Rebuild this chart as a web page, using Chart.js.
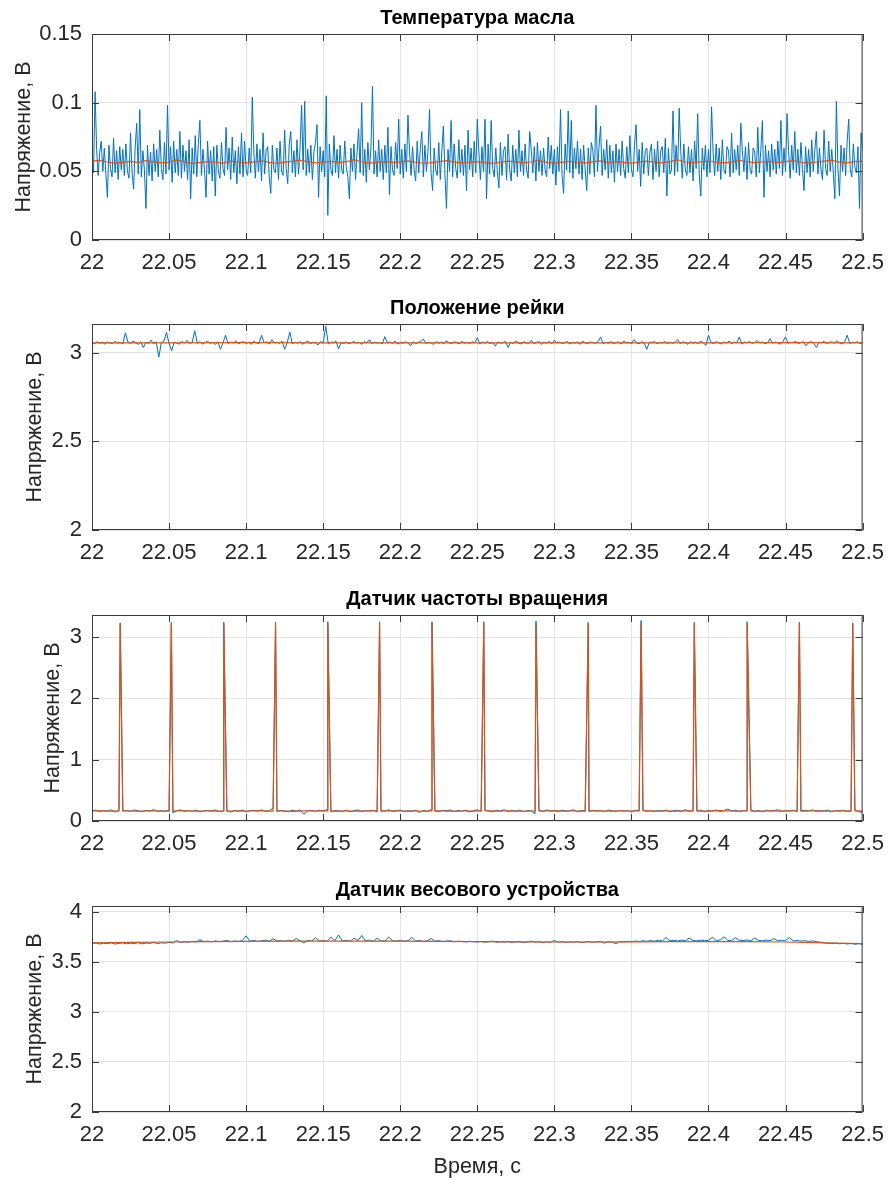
<!DOCTYPE html>
<html>
<head>
<meta charset="utf-8">
<script src="https://cdn.jsdelivr.net/npm/chart.js@4.4.1/dist/chart.umd.min.js"></script>
<style>
body { margin: 0; background: #fff; width: 894px; height: 1180px; position: relative; overflow: hidden; }
canvas { position: absolute; left: 0; }
</style>
</head>
<body>
<canvas id="oilChart" width="894" height="290" style="top:0px;width:894px;height:290px"></canvas>
<canvas id="railChart" width="894" height="290" style="top:290px;width:894px;height:290px"></canvas>
<canvas id="rpmChart" width="894" height="290" style="top:581px;width:894px;height:290px"></canvas>
<canvas id="weightChart" width="894" height="308" style="top:872px;width:894px;height:308px"></canvas>
<script>
// time axis, seconds
const tStart = 22;
const tEnd = 22.5;
const xTickValues = [22, 22.05, 22.1, 22.15, 22.2, 22.25, 22.3, 22.35, 22.4, 22.45, 22.5];

// Температура масла, raw signal (uniform samples over 22..22.5 s)
const oilRaw = [
  0.063, 0.049, 0.108, 0.066, 0.047, 0.064, 0.072, 0.050, 0.067, 0.048, 0.031, 0.069, 0.052, 0.046, 0.074, 0.049, 0.065, 0.044, 0.068, 0.051,
  0.066, 0.047, 0.070, 0.050, 0.045, 0.078, 0.049, 0.037, 0.067, 0.085, 0.048, 0.095, 0.046, 0.065, 0.051, 0.023, 0.069, 0.047, 0.064, 0.043,
  0.070, 0.050, 0.066, 0.046, 0.080, 0.052, 0.044, 0.071, 0.048, 0.098, 0.051, 0.068, 0.042, 0.072, 0.049, 0.066, 0.047, 0.079, 0.045, 0.069,
  0.050, 0.065, 0.044, 0.073, 0.030, 0.067, 0.048, 0.076, 0.046, 0.070, 0.087, 0.047, 0.066, 0.051, 0.031, 0.072, 0.048, 0.065, 0.043, 0.068,
  0.032, 0.069, 0.050, 0.045, 0.071, 0.052, 0.047, 0.082, 0.051, 0.067, 0.044, 0.075, 0.049, 0.065, 0.041, 0.068, 0.048, 0.078, 0.046, 0.072,
  0.051, 0.047, 0.067, 0.049, 0.104, 0.064, 0.045, 0.070, 0.050, 0.066, 0.043, 0.078, 0.048, 0.065, 0.068, 0.046, 0.034, 0.069, 0.051, 0.049,
  0.067, 0.044, 0.072, 0.050, 0.047, 0.080, 0.052, 0.041, 0.070, 0.079, 0.049, 0.065, 0.046, 0.073, 0.048, 0.067, 0.098, 0.051, 0.101, 0.047,
  0.066, 0.049, 0.069, 0.044, 0.064, 0.071, 0.084, 0.031, 0.068, 0.050, 0.065, 0.046, 0.105, 0.018, 0.070, 0.051, 0.047, 0.076, 0.049, 0.066,
  0.045, 0.069, 0.051, 0.048, 0.072, 0.053, 0.046, 0.030, 0.067, 0.050, 0.070, 0.044, 0.064, 0.081, 0.049, 0.100, 0.047, 0.066, 0.042, 0.071,
  0.051, 0.067, 0.112, 0.048, 0.065, 0.046, 0.073, 0.050, 0.066, 0.044, 0.069, 0.049, 0.082, 0.033, 0.068, 0.051, 0.047, 0.071, 0.052, 0.088,
  0.048, 0.066, 0.045, 0.070, 0.050, 0.091, 0.065, 0.047, 0.068, 0.051, 0.043, 0.072, 0.049, 0.066, 0.079, 0.046, 0.069, 0.050, 0.064, 0.095,
  0.049, 0.036, 0.067, 0.051, 0.047, 0.071, 0.044, 0.065, 0.083, 0.048, 0.023, 0.066, 0.050, 0.087, 0.046, 0.070, 0.052, 0.045, 0.073, 0.049,
  0.066, 0.047, 0.069, 0.036, 0.080, 0.051, 0.067, 0.046, 0.072, 0.049, 0.088, 0.065, 0.044, 0.068, 0.050, 0.088, 0.030, 0.070, 0.048, 0.087,
  0.052, 0.046, 0.067, 0.050, 0.038, 0.071, 0.047, 0.065, 0.068, 0.044, 0.077, 0.051, 0.043, 0.069, 0.049, 0.066, 0.046, 0.080, 0.050, 0.065,
  0.047, 0.070, 0.051, 0.045, 0.079, 0.066, 0.049, 0.068, 0.043, 0.071, 0.050, 0.065, 0.047, 0.067, 0.051, 0.046, 0.075, 0.052, 0.069, 0.048,
  0.066, 0.040, 0.068, 0.050, 0.095, 0.047, 0.034, 0.070, 0.051, 0.094, 0.049, 0.087, 0.045, 0.067, 0.052, 0.072, 0.048, 0.066, 0.044, 0.069,
  0.051, 0.036, 0.067, 0.048, 0.071, 0.065, 0.046, 0.098, 0.050, 0.068, 0.083, 0.047, 0.066, 0.051, 0.073, 0.045, 0.069, 0.049, 0.065, 0.042,
  0.070, 0.050, 0.066, 0.047, 0.072, 0.052, 0.045, 0.068, 0.049, 0.076, 0.051, 0.046, 0.069, 0.084, 0.050, 0.066, 0.039, 0.071, 0.048, 0.065,
  0.067, 0.047, 0.064, 0.070, 0.044, 0.066, 0.050, 0.072, 0.046, 0.065, 0.068, 0.049, 0.074, 0.032, 0.067, 0.048, 0.051, 0.094, 0.047, 0.069,
  0.050, 0.096, 0.065, 0.045, 0.070, 0.051, 0.047, 0.068, 0.049, 0.066, 0.043, 0.072, 0.052, 0.092, 0.048, 0.032, 0.067, 0.051, 0.069, 0.046,
  0.066, 0.049, 0.097, 0.064, 0.047, 0.070, 0.050, 0.067, 0.044, 0.073, 0.051, 0.048, 0.068, 0.065, 0.046, 0.078, 0.049, 0.066, 0.051, 0.069,
  0.047, 0.085, 0.065, 0.050, 0.068, 0.044, 0.071, 0.051, 0.048, 0.067, 0.064, 0.046, 0.082, 0.049, 0.066, 0.087, 0.031, 0.069, 0.050, 0.065,
  0.046, 0.070, 0.051, 0.066, 0.048, 0.072, 0.052, 0.087, 0.047, 0.067, 0.050, 0.092, 0.065, 0.045, 0.069, 0.051, 0.079, 0.049, 0.066, 0.047,
  0.071, 0.052, 0.036, 0.068, 0.049, 0.066, 0.046, 0.073, 0.050, 0.065, 0.079, 0.048, 0.067, 0.051, 0.044, 0.080, 0.052, 0.047, 0.072, 0.050,
  0.066, 0.049, 0.030, 0.101, 0.052, 0.032, 0.069, 0.050, 0.067, 0.047, 0.072, 0.088, 0.051, 0.046, 0.070, 0.053, 0.049, 0.068, 0.023, 0.078,
  0.066
];
// Температура масла, filtered
const oilFiltered = [
  0.0575, 0.0580, 0.0568, 0.0560, 0.0565, 0.0572, 0.0563, 0.0578, 0.0569, 0.0561,
  0.0566, 0.0583, 0.0570, 0.0558, 0.0564, 0.0571, 0.0566, 0.0560, 0.0574, 0.0568,
  0.0562, 0.0569, 0.0577, 0.0565, 0.0559, 0.0567, 0.0573, 0.0582, 0.0569, 0.0561,
  0.0566, 0.0572, 0.0564, 0.0570, 0.0585, 0.0568, 0.0560, 0.0565, 0.0571, 0.0563,
  0.0569, 0.0576, 0.0566, 0.0559, 0.0563, 0.0570, 0.0578, 0.0567, 0.0561, 0.0566,
  0.0571, 0.0564, 0.0558, 0.0566, 0.0574, 0.0569, 0.0562, 0.0568, 0.0579, 0.0565,
  0.0560, 0.0567, 0.0573, 0.0566, 0.0561, 0.0569, 0.0576, 0.0564, 0.0570, 0.0565,
  0.0560, 0.0568, 0.0575, 0.0567, 0.0562, 0.0571, 0.0584, 0.0568, 0.0563, 0.0569,
  0.0574, 0.0566, 0.0561, 0.0567, 0.0580, 0.0570, 0.0563, 0.0568, 0.0573, 0.0565,
  0.0571, 0.0578, 0.0566, 0.0560, 0.0568, 0.0575, 0.0582, 0.0567, 0.0562, 0.0570,
  0.0574
];

// Положение рейки
const railRaw = [
  3.058, 3.051, 3.063, 3.054, 3.060, 3.049, 3.062, 3.056, 3.052, 3.065, 3.055, 3.059, 3.050, 3.113, 3.061, 3.053, 3.067, 3.057, 3.048, 3.062,
  3.030, 3.060, 3.054, 3.072, 3.051, 3.063, 2.976, 3.058, 3.066, 3.116, 3.052, 3.012, 3.061, 3.056, 3.049, 3.064, 3.055, 3.070, 3.053, 3.059,
  3.125, 3.054, 3.062, 3.050, 3.058, 3.066, 3.053, 3.060, 3.047, 3.063, 3.020, 3.057, 3.100, 3.052, 3.061, 3.055, 3.068, 3.050, 3.059, 3.064,
  3.053, 3.060, 3.048, 3.065, 3.056, 3.052, 3.100, 3.058, 3.062, 3.050, 3.075, 3.055, 3.061, 3.053, 3.066, 3.020, 3.057, 3.118, 3.051, 3.060,
  3.055, 3.063, 3.049, 3.058, 3.067, 3.052, 3.060, 3.056, 3.045, 3.064, 3.054, 3.150, 3.050, 3.061, 3.057, 3.066, 3.022, 3.059, 3.053, 3.062,
  3.051, 3.058, 3.064, 3.055, 3.060, 3.048, 3.063, 3.057, 3.074, 3.052, 3.061, 3.055, 3.059, 3.050, 3.092, 3.056, 3.062, 3.053, 3.066, 3.049,
  3.060, 3.054, 3.062, 3.057, 3.040, 3.063, 3.052, 3.059, 3.065, 3.078, 3.053, 3.060, 3.056, 3.048, 3.064, 3.055, 3.061, 3.051, 3.068, 3.057,
  3.053, 3.062, 3.058, 3.050, 3.065, 3.055, 3.060, 3.052, 3.063, 3.057, 3.085, 3.049, 3.061, 3.056, 3.064, 3.052, 3.059, 3.038, 3.062, 3.055,
  3.058, 3.064, 3.030, 3.060, 3.053, 3.067, 3.056, 3.050, 3.062, 3.057, 3.054, 3.071, 3.052, 3.059, 3.063, 3.049, 3.060, 3.055, 3.065, 3.051,
  3.072, 3.056, 3.061, 3.053, 3.058, 3.064, 3.050, 3.060, 3.055, 3.062, 3.048, 3.066, 3.057, 3.052, 3.061, 3.059, 3.054, 3.063, 3.090, 3.051,
  3.060, 3.055, 3.064, 3.052, 3.058, 3.062, 3.049, 3.066, 3.056, 3.060, 3.053, 3.075, 3.057, 3.051, 3.063, 3.055, 3.020, 3.061, 3.058, 3.064,
  3.052, 3.059, 3.056, 3.065, 3.050, 3.061, 3.054, 3.060, 3.075, 3.053, 3.062, 3.057, 3.048, 3.064, 3.055, 3.060, 3.052, 3.067, 3.056, 3.042,
  3.100, 3.058, 3.053, 3.063, 3.057, 3.050, 3.062, 3.055, 3.066, 3.052, 3.060, 3.056, 3.090, 3.049, 3.061, 3.057, 3.064, 3.053, 3.059, 3.070,
  3.055, 3.062, 3.051, 3.058, 3.080, 3.054, 3.061, 3.056, 3.049, 3.064, 3.090, 3.053, 3.060, 3.057, 3.066, 3.051, 3.059, 3.062, 3.040, 3.058,
  3.063, 3.055, 3.030, 3.060, 3.057, 3.065, 3.052, 3.059, 3.062, 3.054, 3.068, 3.056, 3.050, 3.061, 3.100, 3.053, 3.060, 3.057, 3.064, 3.052,
  3.058
];
const railFiltered = [3.057, 3.056, 3.058, 3.057, 3.056, 3.057, 3.057, 3.056, 3.057, 3.058, 3.057];

// Датчик частоты вращения: level between pulses, then the pulses themselves
const rpmRaw = [
  0.165, 0.178, 0.152, 0.170, 0.160, 0.182, 0.148, 0.175, 0.163, 0.171,
  0.157, 0.180, 0.166, 0.150, 0.174, 0.161, 0.185, 0.155, 0.169, 0.158,
  0.176, 0.130, 0.168, 0.182, 0.154, 0.171, 0.160, 0.177, 0.149, 0.166,
  0.172, 0.158, 0.181, 0.153, 0.165, 0.175, 0.145, 0.170, 0.162, 0.179,
  0.151, 0.168, 0.174, 0.160, 0.183, 0.155, 0.169, 0.210, 0.158, 0.172,
  0.164, 0.150, 0.176, 0.161, 0.180, 0.110, 0.167, 0.173, 0.156, 0.178,
  0.162, 0.185, 0.150, 0.171, 0.165, 0.158, 0.177, 0.152, 0.168, 0.181,
  0.155, 0.170, 0.163, 0.176, 0.148, 0.172, 0.160, 0.184, 0.157, 0.166,
  0.179, 0.153, 0.169, 0.162, 0.175, 0.140, 0.171, 0.158, 0.183, 0.164,
  0.151, 0.174, 0.166, 0.180, 0.156, 0.170, 0.161, 0.177, 0.149, 0.168,
  0.182, 0.158, 0.172, 0.165, 0.150, 0.176, 0.163, 0.185, 0.155, 0.169,
  0.160, 0.178, 0.152, 0.171, 0.166, 0.120, 0.174, 0.158, 0.181, 0.163,
  0.170, 0.154, 0.177, 0.161, 0.168, 0.183, 0.150, 0.172, 0.164, 0.159,
  0.176, 0.162, 0.169, 0.153, 0.180, 0.166, 0.157, 0.174, 0.161, 0.171,
  0.148, 0.177, 0.165, 0.182, 0.158, 0.170, 0.155, 0.173, 0.163, 0.179,
  0.152, 0.168, 0.175, 0.160, 0.184, 0.156, 0.171, 0.164, 0.178, 0.150,
  0.172, 0.161, 0.180, 0.157, 0.169, 0.195, 0.163, 0.176, 0.154, 0.170,
  0.166, 0.181, 0.158, 0.173, 0.150, 0.177, 0.162, 0.169, 0.185, 0.155,
  0.171, 0.160, 0.178, 0.152, 0.167, 0.175, 0.163, 0.182, 0.157, 0.170,
  0.164, 0.179, 0.151, 0.172, 0.160, 0.176, 0.158, 0.168, 0.183, 0.150,
  0.140
];
const rpmFiltered = [
  0.163, 0.164, 0.165, 0.164, 0.162, 0.161, 0.162, 0.164, 0.166, 0.165,
  0.163, 0.162, 0.160, 0.161, 0.163, 0.165, 0.166, 0.164, 0.162, 0.161,
  0.160, 0.162, 0.164, 0.166, 0.167, 0.165, 0.163, 0.162, 0.161, 0.163,
  0.165, 0.164, 0.162, 0.160, 0.159, 0.161, 0.163, 0.165, 0.164, 0.162,
  0.161, 0.163, 0.166, 0.168, 0.166, 0.164, 0.162, 0.161, 0.163, 0.164,
  0.162, 0.160, 0.158, 0.160, 0.162, 0.164, 0.165, 0.163, 0.162, 0.164,
  0.166, 0.165, 0.163, 0.161, 0.160, 0.162, 0.164, 0.163, 0.161, 0.160,
  0.162, 0.164, 0.166, 0.165, 0.163, 0.162, 0.164, 0.166, 0.167, 0.165,
  0.163, 0.161, 0.160, 0.162, 0.164, 0.163, 0.161, 0.162, 0.164, 0.166,
  0.165, 0.163, 0.162, 0.160, 0.159, 0.161, 0.163, 0.164, 0.162, 0.161,
  0.163, 0.165, 0.167, 0.166, 0.164, 0.162, 0.161, 0.163, 0.165, 0.164,
  0.162, 0.160, 0.159, 0.161, 0.163, 0.165, 0.164, 0.162, 0.163, 0.165,
  0.166, 0.164, 0.162, 0.161, 0.163, 0.164, 0.162, 0.160, 0.161, 0.163,
  0.165, 0.166, 0.164, 0.163, 0.161, 0.160, 0.162, 0.164, 0.165, 0.163,
  0.162, 0.163, 0.165, 0.167, 0.166, 0.164, 0.162, 0.161, 0.162, 0.164,
  0.163, 0.161, 0.160, 0.162, 0.164, 0.166, 0.165, 0.163, 0.161, 0.160,
  0.162, 0.164, 0.166, 0.168, 0.166, 0.164, 0.163, 0.161, 0.162, 0.164,
  0.165, 0.163, 0.161, 0.160, 0.162, 0.164, 0.165, 0.163, 0.162, 0.161,
  0.163, 0.165, 0.166, 0.164, 0.162, 0.161, 0.163, 0.165, 0.164, 0.162,
  0.160, 0.159, 0.161, 0.163, 0.165, 0.164, 0.162, 0.161, 0.163, 0.164,
  0.162
];
const pulseTimes = [22.0183, 22.0515, 22.0855, 22.1191, 22.1530, 22.1866, 22.2206, 22.2542,
  22.2881, 22.3220, 22.3563, 22.3908, 22.4251, 22.4590, 22.4936];
const pulseRaw = [3.23, 3.24, 3.24, 3.24, 3.25, 3.25, 3.25, 3.25, 3.26, 3.24, 3.27, 3.24, 3.25, 3.24, 3.23];
const pulseFiltered = [3.22, 3.22, 3.22, 3.22, 3.23, 3.22, 3.22, 3.23, 3.22, 3.22, 3.22, 3.22, 3.22, 3.22, 3.21];

// Датчик весового устройства
const weightRaw = [
  3.684, 3.690, 3.680, 3.688, 3.683, 3.692, 3.679, 3.687, 3.691, 3.682,
  3.689, 3.685, 3.693, 3.681, 3.690, 3.686, 3.695, 3.684, 3.692, 3.688,
  3.697, 3.690, 3.715, 3.694, 3.702, 3.698, 3.706, 3.700, 3.722, 3.703,
  3.709, 3.701, 3.711, 3.704, 3.708, 3.716, 3.703, 3.710, 3.706, 3.713,
  3.762, 3.708, 3.715, 3.705, 3.712, 3.718, 3.707, 3.733, 3.710, 3.714,
  3.706, 3.716, 3.709, 3.735, 3.712, 3.690, 3.717, 3.708, 3.742, 3.711,
  3.714, 3.707, 3.748, 3.712, 3.770, 3.709, 3.716, 3.705, 3.740, 3.713,
  3.765, 3.710, 3.718, 3.706, 3.738, 3.712, 3.708, 3.750, 3.714, 3.709,
  3.716, 3.707, 3.712, 3.745, 3.710, 3.714, 3.705, 3.711, 3.735, 3.708,
  3.713, 3.704, 3.709, 3.712, 3.702, 3.708, 3.705, 3.701, 3.707, 3.703,
  3.700, 3.706, 3.698, 3.703, 3.709, 3.697, 3.702, 3.699, 3.705, 3.696,
  3.701, 3.704, 3.695, 3.700, 3.708, 3.698, 3.703, 3.694, 3.701, 3.697,
  3.715, 3.699, 3.704, 3.696, 3.702, 3.698, 3.705, 3.693, 3.700, 3.703,
  3.697, 3.701, 3.706, 3.689, 3.703, 3.699, 3.683, 3.704, 3.700, 3.707,
  3.703, 3.709, 3.705, 3.712, 3.707, 3.714, 3.708, 3.718, 3.710, 3.745,
  3.713, 3.717, 3.709, 3.720, 3.712, 3.740, 3.715, 3.711, 3.719, 3.713,
  3.716, 3.748, 3.714, 3.720, 3.752, 3.717, 3.712, 3.742, 3.718, 3.715,
  3.721, 3.713, 3.740, 3.716, 3.712, 3.719, 3.714, 3.735, 3.711, 3.717,
  3.712, 3.745, 3.710, 3.715, 3.708, 3.713, 3.706, 3.711, 3.704, 3.698,
  3.692, 3.688, 3.685, 3.690, 3.682, 3.687, 3.680, 3.685, 3.678, 3.683,
  3.676
];
const weightFiltered = [3.692, 3.696, 3.700, 3.703, 3.706, 3.708, 3.709, 3.709, 3.708, 3.706,
  3.703, 3.701, 3.700, 3.700, 3.701, 3.703, 3.704, 3.703, 3.700, 3.692, 3.684];

const BLUE = '#0072BD';
const ORANGE = '#D95319';
const FONT = "'Liberation Sans', Arial, Helvetica, sans-serif";

Chart.defaults.font.family = FONT;
Chart.defaults.color = '#262626';

// samples are evenly spaced over the plotted window
function toPoints(values) {
  const step = (tEnd - tStart) / (values.length - 1);
  return values.map((v, i) => ({ x: tStart + i * step, y: v }));
}

function withPulses(values, peaks) {
  const pts = toPoints(values);
  pulseTimes.forEach((t, k) => pts.push({ x: t, y: peaks[k] }));
  return pts.sort((a, b) => a.x - b.x);
}

// MATLAB-style box with inward tick marks
const boxPlugin = {
  id: 'box',
  afterDraw(chart) {
    const { ctx, chartArea: a, scales } = chart;
    ctx.save();
    ctx.strokeStyle = '#3a3a3a';
    ctx.lineWidth = 1;
    ctx.beginPath();
    scales.x.ticks.forEach(t => {
      const px = Math.round(scales.x.getPixelForValue(t.value)) + 0.5;
      ctx.moveTo(px, a.bottom); ctx.lineTo(px, a.bottom - 7);
      ctx.moveTo(px, a.top); ctx.lineTo(px, a.top + 7);
    });
    scales.y.ticks.forEach(t => {
      const py = Math.round(scales.y.getPixelForValue(t.value)) + 0.5;
      ctx.moveTo(a.left, py); ctx.lineTo(a.left + 7, py);
      ctx.moveTo(a.right, py); ctx.lineTo(a.right - 7, py);
    });
    ctx.stroke();
    ctx.strokeRect(a.left + 0.5, a.top + 0.5, a.right - a.left - 1, a.bottom - a.top - 1);
    ctx.restore();
  }
};

function makeChart(id, cfg) {
  const canvas = document.getElementById(id);
  return new Chart(canvas, {
    type: 'line',
    data: {
      datasets: [
        { data: cfg.filtered, borderColor: ORANGE, borderWidth: 1.2, order: 0 },
        { data: cfg.raw, borderColor: BLUE, borderWidth: 1, order: 1 }
      ]
    },
    options: {
      responsive: false,
      animation: false,
      events: [],
      elements: { point: { radius: 0 }, line: { tension: 0 } },
      layout: { padding: { left: 0, right: 26, top: 0, bottom: 0 } },
      plugins: {
        legend: { display: false },
        tooltip: { enabled: false },
        title: {
          display: true,
          fullSize: false,
          text: cfg.title,
          color: '#000',
          font: { size: 20, weight: 'bold' },
          padding: { top: 6, bottom: 4 }
        }
      },
      scales: {
        x: {
          type: 'linear',
          min: tStart,
          max: tEnd,
          afterBuildTicks: s => { s.ticks = xTickValues.map(v => ({ value: v })); },
          afterFit: s => { s.height = cfg.xHeight; },
          ticks: {
            font: { size: 22 },
            padding: 10,
            maxRotation: 0,
            autoSkip: false,
            callback: v => String(+v.toFixed(2))
          },
          grid: { color: '#e3e3e3', drawTicks: false },
          border: { display: false },
          title: {
            display: !!cfg.xTitle,
            text: cfg.xTitle || '',
            font: { size: 21.5 },
            padding: { top: 0, bottom: 0 }
          }
        },
        y: {
          type: 'linear',
          min: cfg.yMin,
          max: cfg.yMax,
          afterBuildTicks: s => { s.ticks = cfg.yTicks.map(v => ({ value: v })); },
          afterFit: s => { s.width = 92; },
          ticks: {
            font: { size: 22 },
            padding: 10,
            callback: v => String(+v.toFixed(3))
          },
          grid: { color: '#e3e3e3', drawTicks: false },
          border: { display: false },
          title: {
            display: true,
            text: 'Напряжение, В',
            font: { size: 21.5 },
            padding: { top: cfg.yTitlePad, bottom: 0 }
          }
        }
      }
    },
    plugins: [boxPlugin]
  });
}

makeChart('oilChart', {
  title: 'Температура масла',
  raw: toPoints(oilRaw),
  filtered: toPoints(oilFiltered),
  yMin: 0, yMax: 0.15, yTicks: [0, 0.05, 0.1, 0.15],
  yTitlePad: 11, xHeight: 50
});

makeChart('railChart', {
  title: 'Положение рейки',
  raw: toPoints(railRaw),
  filtered: toPoints(railFiltered),
  yMin: 2, yMax: 3.163, yTicks: [2, 2.5, 3],
  yTitlePad: 22, xHeight: 50
});

makeChart('rpmChart', {
  title: 'Датчик частоты вращения',
  raw: withPulses(rpmRaw, pulseRaw),
  filtered: withPulses(rpmFiltered, pulseFiltered),
  yMin: 0, yMax: 3.36, yTicks: [0, 1, 2, 3],
  yTitlePad: 40, xHeight: 50
});

makeChart('weightChart', {
  title: 'Датчик весового устройства',
  raw: toPoints(weightRaw),
  filtered: toPoints(weightFiltered),
  yMin: 2, yMax: 4.06, yTicks: [2, 2.5, 3, 3.5, 4],
  yTitlePad: 22, xHeight: 68, xTitle: 'Время, с'
});
</script>
</body>
</html>
